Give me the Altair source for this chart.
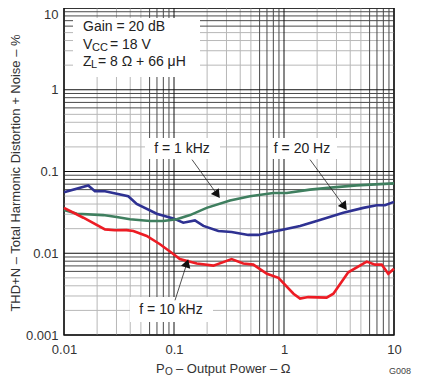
import altair as alt
import pandas as pd

FONT = "Liberation Sans"

# ---- axis ticks ----
x_ticks = [0.01, 0.1, 1, 10]
y_ticks = [0.001, 0.01, 0.1, 1, 10]

# ---- series ----
series_names = ["f = 20 Hz", "f = 1 kHz", "f = 10 kHz"]
series_colors = ["#2e3192", "#3f7f5f", "#ed1c24"]

blue_x = [0.01, 0.0166, 0.0191, 0.0236, 0.0384, 0.0458, 0.0696, 0.0985, 0.1214, 0.155, 0.185,
          0.253, 0.334, 0.474, 0.584, 0.857, 1.40, 1.98, 3.46, 5.26, 6.96, 8.28, 10]
blue_y = [0.0556, 0.0676, 0.0573, 0.0573, 0.0498, 0.0402, 0.0304, 0.0267, 0.0236, 0.0252, 0.0216,
          0.01874, 0.01823, 0.01676, 0.01676, 0.01874, 0.0216, 0.0248, 0.0313, 0.0359, 0.0387, 0.0387, 0.0425]

green_x = [0.01, 0.0131, 0.0227, 0.0301, 0.0398, 0.0605, 0.080, 0.106, 0.140, 0.198, 0.323,
           0.49, 0.80, 1.06, 1.72, 2.81, 4.58, 10]
green_y = [0.0337, 0.0304, 0.0293, 0.0277, 0.026, 0.0248, 0.0248, 0.026, 0.0293, 0.0359, 0.0441,
           0.0498, 0.0546, 0.0546, 0.060, 0.064, 0.0676, 0.0716]

red_x = [0.01, 0.015, 0.0236, 0.029, 0.037, 0.0427, 0.0565, 0.0746, 0.0986, 0.113, 0.161, 0.228,
         0.334, 0.426, 0.526, 0.70, 0.89, 1.22, 1.40, 1.66, 2.44, 2.81, 3.84, 5.65, 6.72, 7.73, 8.87, 10]
red_y = [0.0359, 0.0272, 0.0196, 0.0191, 0.0192, 0.0187, 0.0163, 0.0129, 0.0098, 0.0085, 0.0075, 0.00705,
         0.0085, 0.0075, 0.00726, 0.0056, 0.0050, 0.0032, 0.00279, 0.00291, 0.00287, 0.0032, 0.00585,
         0.0079, 0.00726, 0.00726, 0.0056, 0.00646]

rows = []
for name, xs, ys in zip(series_names, [blue_x, green_x, red_x], [blue_y, green_y, red_y]):
    for i, (a, b) in enumerate(zip(xs, ys)):
        rows.append({"series": name, "x": a, "y": b, "i": i})
df = pd.DataFrame(rows)

# ---- grid line positions ----
def grid_values(decades, last):
    light, dark, major = [], [], []
    for d in decades:
        for k in range(1, 10):
            v = d * k
            if k == 1:
                major.append(v)
            elif k <= 5:
                light.append(v)
            else:
                dark.append(v)
    major.append(last)
    return {"light": light, "dark": dark, "major": major}

gx = grid_values([0.01, 0.1, 1], 10)
gy = grid_values([0.001, 0.01, 0.1, 1], 10)
grid_colors = {"light": "#b8b8b8", "dark": "#4a4a4a", "major": "#111111"}

xscale = alt.Scale(type="log", domain=[0.01, 10], nice=False)
yscale = alt.Scale(type="log", domain=[0.001, 10], nice=False)
xaxis = alt.Axis(values=x_ticks, format="~g", title=None, grid=False, ticks=False, domain=False,
                 labelFontSize=13, labelFont=FONT, labelColor="#333", labelPadding=8,
                 labelFlush=False, labelOverlap=False)
yaxis = alt.Axis(values=y_ticks, format="~g", title=None, grid=False, ticks=False, domain=False,
                 labelFontSize=13, labelFont=FONT, labelColor="#333", labelPadding=6,
                 labelFlush=False, labelOverlap=False,
                 labelBaseline={"condition": {"test": "datum.value >= 10", "value": "top"},
                                "value": "middle"})

layers = []
for kind in ["light", "dark", "major"]:
    layers.append(alt.Chart(pd.DataFrame({"v": gx[kind]})).mark_rule(
        color=grid_colors[kind], strokeWidth=1).encode(
        x=alt.X("v:Q", scale=xscale, axis=xaxis)))
    layers.append(alt.Chart(pd.DataFrame({"v": gy[kind]})).mark_rule(
        color=grid_colors[kind], strokeWidth=1).encode(
        y=alt.Y("v:Q", scale=yscale, axis=yaxis)))

one = pd.DataFrame({"a": [0]})

def box(x1, x2, y1, y2):
    return alt.Chart(one).mark_rect(color="white").encode(
        x=alt.value(x1), x2=alt.value(x2), y=alt.value(y1), y2=alt.value(y2))

def txt(s, x, y, size=14, align="left", angle=0, color="#222"):
    return alt.Chart(one).mark_text(text=s, align=align, baseline="middle", fontSize=size,
                                    font=FONT, angle=angle, color=color).encode(
        x=alt.value(x), y=alt.value(y))

def arrow(x1, y1, x2, y2, ang):
    r = alt.Chart(one).mark_rule(color="#222", strokeWidth=0.8).encode(
        x=alt.value(x1), y=alt.value(y1), x2=alt.value(x2), y2=alt.value(y2))
    p = alt.Chart(one).mark_point(shape="triangle", filled=True, size=95, angle=ang,
                                  color="#111", opacity=1).encode(x=alt.value(x2), y=alt.value(y2))
    return [r, p]

# white boxes
layers += [box(9, 136, 10, 69), box(81, 156, 130, 151), box(204, 273, 130, 151), box(66, 149, 289, 314)]

# data lines
layers.append(alt.Chart(df).mark_line(strokeWidth=2.6).encode(
    x=alt.X("x:Q", scale=xscale, axis=xaxis),
    y=alt.Y("y:Q", scale=yscale, axis=yaxis),
    color=alt.Color("series:N", scale=alt.Scale(domain=series_names, range=series_colors), legend=None),
    order="i:Q"))

# arrows
layers += arrow(128, 151.6, 152.5, 185.5, 144)
layers += arrow(246, 151.6, 279.5, 197.5, 144)
layers += arrow(111, 292.3, 122.5, 256.5, 18)

# annotation texts
layers += [
    txt("f = 1 kHz", 118, 141, align="center"),
    txt("f = 20 Hz", 238, 141, align="center"),
    txt("f = 10 kHz", 107, 302, align="center"),
    txt("Gain = 20 dB", 19, 18.5),
    txt("V", 19, 36.5),
    txt("CC", 28, 39.5, size=11),
    txt("= 18 V", 46, 36.5),
    txt("Z", 19, 54),
    txt("L", 27, 57, size=11),
    txt("= 8 \u03a9 + 66 \u03bcH", 34, 54),
    # axis titles
    txt("THD+N \u2013 Total Harmonic Distortion + Noise \u2013 %", -48, 165, size=13, align="center",
        angle=270, color="#333"),
    txt("P", 92, 361, size=13, color="#333"),
    txt("O", 101, 364, size=10, color="#333"),
    txt("\u2013 Output Power \u2013 \u03a9", 112, 361, size=13, color="#333"),
    txt("G008", 347, 363, size=9, align="right", color="#444"),
]

chart = alt.layer(*layers).properties(
    width=330, height=327,
    autosize=alt.AutoSizeParams(type="none"),
    padding={"left": 56, "top": 0, "right": 19, "bottom": 42},
    background="white",
).configure_view(stroke="#222", strokeWidth=1.5)

chart.save("out.html", embed_options={"renderer": "svg", "actions": False})
